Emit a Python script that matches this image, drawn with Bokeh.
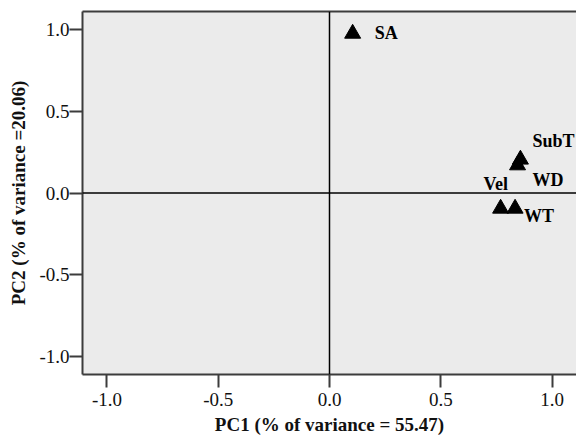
from bokeh.plotting import figure
from bokeh.models import Span, LinearAxis, FixedTicker, ColumnDataSource, CustomJSTickFormatter
from bokeh.embed import file_html
from bokeh.resources import INLINE
from bokeh.core.properties import value

# ---- data ----
variables = ["SA", "SubT", "WD", "Vel", "WT"]
pc1 = [0.104, 0.858, 0.845, 0.769, 0.834]
pc2 = [0.975, 0.205, 0.170, -0.095, -0.095]
tick_values = [-1.0, -0.5, 0.0, 0.5, 1.0]
x_title = "PC1 (% of variance = 55.47)"
y_title = "PC2 (% of variance =20.06)"

# ---- label placement (style, screen pixels; +y is down) ----
label_dx = {"SA": 22, "SubT": 12, "WD": 15, "Vel": -17, "WT": 9}
label_dy = {"SA": -1, "SubT": -18, "WD": 15, "Vel": -25, "WT": 7}

FONT = "Liberation Serif"
EDGE = "#3c3c3c"

p = figure(width=576, height=440, x_range=(-1.11, 1.11), y_range=(-1.11, 1.11),
           output_backend="svg", toolbar_location=None,
           min_border_left=82, min_border_right=0, min_border_top=11, min_border_bottom=66)
p.background_fill_color = "#ebebeb"
p.border_fill_color = "white"
p.outline_line_color = None
p.xgrid.visible = False
p.ygrid.visible = False

fmt = CustomJSTickFormatter(code="return tick.toFixed(1);")
for ax in (p.xaxis[0], p.yaxis[0]):
    ax.ticker = FixedTicker(ticks=tick_values)
    ax.formatter = fmt
    ax.major_tick_in = 0
    ax.major_tick_out = 13
    ax.minor_tick_out = 0
    ax.minor_tick_in = 0
    ax.major_tick_line_color = EDGE
    ax.major_tick_line_width = 2
    ax.axis_line_color = EDGE
    ax.axis_line_width = 2
    ax.major_label_text_font = FONT
    ax.major_label_text_font_size = "19px"
    ax.major_label_text_color = "#111111"
    ax.axis_label_text_font = FONT
    ax.axis_label_text_font_size = "19px"
    ax.axis_label_text_font_style = "bold"
    ax.axis_label_text_color = "#111111"

p.xaxis[0].axis_label = x_title
p.yaxis[0].axis_label = y_title
p.xaxis[0].major_label_standoff = 5
p.yaxis[0].major_label_standoff = 0
p.xaxis[0].axis_label_standoff = 5
p.yaxis[0].axis_label_standoff = 7

top = LinearAxis(ticker=FixedTicker(ticks=[]), major_tick_out=0, major_tick_in=0,
                 minor_tick_out=0, minor_tick_in=0, major_label_text_font_size="0px",
                 axis_line_color=EDGE, axis_line_width=2)
p.add_layout(top, "above")

p.add_layout(Span(location=0, dimension="width", line_color="black", line_width=1.5))
p.add_layout(Span(location=0, dimension="height", line_color="black", line_width=1.5))

src = ColumnDataSource(dict(
    x=pc1, y=pc2, name=variables,
    dx=[label_dx[v] for v in variables],
    dy=[label_dy[v] for v in variables],
))
p.scatter("x", "y", source=src, marker="triangle", size=16, fill_color="black", line_color="black")
p.text("x", "y", text="name", source=src, x_offset="dx", y_offset="dy",
       text_font=value(FONT), text_font_size="18px", text_font_style="bold",
       text_align="left", text_baseline="middle", text_color="black")

open("out.html", "w").write(file_html(p, INLINE))
